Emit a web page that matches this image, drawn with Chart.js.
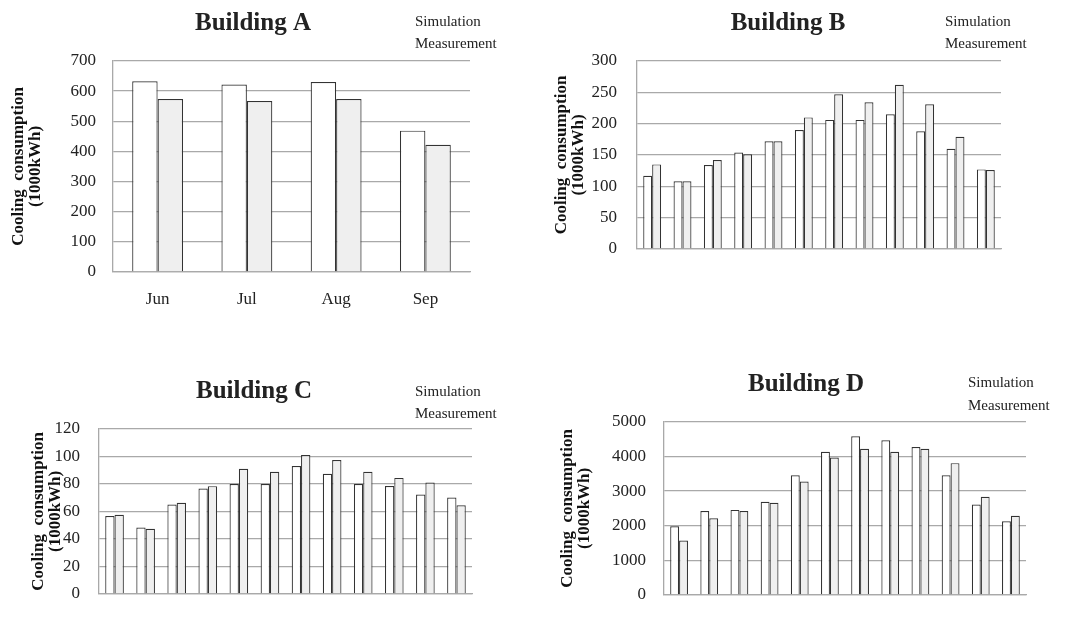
<!DOCTYPE html>
<html>
<head>
<meta charset="utf-8">
<script src="https://cdn.jsdelivr.net/npm/chart.js@4.4.1/dist/chart.umd.min.js"></script>
<style>
  html, body { margin: 0; padding: 0; background: #fff; }
  body { width: 1069px; height: 623px; position: relative; overflow: hidden; }
  canvas { position: absolute; }
</style>
</head>
<body>
<canvas id="cA"></canvas>
<canvas id="cB"></canvas>
<canvas id="cC"></canvas>
<canvas id="cD"></canvas>
<script>
// ---------- DATA ----------
const monthsA = ['Jun', 'Jul', 'Aug', 'Sep'];
const simA = [633, 622, 630, 469];
const measA = [574, 567, 574, 422];

const monthsYear = ['Jan', 'Feb', 'Mar', 'Apr', 'May', 'Jun', 'Jul', 'Aug', 'Sep', 'Oct', 'Nov', 'Dec'];

const simB = [117, 108, 134, 154, 172, 190, 206, 206, 215, 188, 160, 127];
const measB = [135, 108, 142, 151, 172, 210, 247, 234, 262, 231, 179, 126];

const simC = [56.7, 48.2, 65.0, 76.7, 80.0, 80.0, 93.1, 87.4, 80.0, 78.5, 72.3, 70.1];
const measC = [57.5, 47.3, 66.3, 78.4, 91.0, 88.9, 101.0, 97.4, 88.9, 84.4, 81.0, 64.4];

const simD = [1983, 2422, 2457, 2690, 3457, 4138, 4586, 4474, 4276, 3457, 2612, 2129];
const measD = [1569, 2216, 2422, 2664, 3276, 3974, 4224, 4138, 4224, 3810, 2836, 2284];

const seriesNames = ['Simulation', 'Measurement'];
const titles = ['Building A', 'Building B', 'Building C', 'Building D'];
const yTitle = ['Cooling  consumption', '(1000kWh)'];

// ---------- STYLE / LAYOUT ----------
const SERIF = '"Liberation Serif", "DejaVu Serif", serif';
const GRID = '#a9a9a9';
const TXT = '#222';

const overlayPlugin = {
  id: 'overlay',
  afterDraw(chart, args, opts) {
    const ctx = chart.ctx;
    ctx.save();
    ctx.fillStyle = TXT;
    ctx.font = 'bold 25px ' + SERIF;
    ctx.textAlign = 'center';
    ctx.textBaseline = 'alphabetic';
    ctx.fillText(opts.title, opts.titleX, opts.titleY);
    ctx.font = '15px ' + SERIF;
    ctx.textAlign = 'left';
    ctx.textBaseline = 'middle';
    ctx.fillText(opts.legend[0], opts.legX, opts.legY1);
    ctx.fillText(opts.legend[1], opts.legX, opts.legY2);
    ctx.restore();
  }
};

function makeChart(id, g, labels, sim, meas, yMax, yStep, title, showX) {
  const cv = document.getElementById(id);
  cv.style.left = g.cl + 'px';
  cv.style.top = g.ct + 'px';
  cv.style.width = g.cw + 'px';
  cv.style.height = g.ch + 'px';
  cv.width = g.cw; cv.height = g.ch;
  return new Chart(cv, {
    type: 'bar',
    data: {
      labels: labels,
      datasets: [
        { label: seriesNames[0], data: sim, backgroundColor: '#ffffff', borderColor: '#333', borderWidth: 1.2 },
        { label: seriesNames[1], data: meas, backgroundColor: '#efefef', borderColor: '#333', borderWidth: 1.2 }
      ]
    },
    options: {
      responsive: false,
      animation: false,
      devicePixelRatio: 1,
      layout: { padding: { left: 0, bottom: 0, top: g.pt - g.ct, right: g.cl + g.cw - g.pr } },
      datasets: { bar: { barPercentage: 1.0, categoryPercentage: g.cat } },
      plugins: {
        legend: { display: false },
        tooltip: { enabled: false },
        title: { display: false },
        overlay: {
          title: title, titleX: g.tx - g.cl, titleY: g.ty - g.ct,
          legend: seriesNames, legX: g.lx - g.cl, legY1: g.ly1 - g.ct, legY2: g.ly2 - g.ct
        }
      },
      scales: {
        x: {
          grid: { display: false },
          border: { display: true, color: GRID, width: 1.3 },
          ticks: { display: showX, color: TXT, font: { family: SERIF, size: 17 }, padding: 9, maxRotation: 0 },
          afterFit(s) { s.height = g.ct + g.ch - g.pb; }
        },
        y: {
          min: 0, max: yMax,
          grid: { color: GRID, lineWidth: 1.3, drawTicks: false },
          border: { display: true, color: GRID, width: 1.3 },
          ticks: { stepSize: yStep, color: TXT, font: { family: SERIF, size: 17 }, padding: g.tp,
                   callback: (v) => String(v) },
          title: {
            display: true, text: yTitle, color: '#111',
            font: { family: SERIF, size: 17, weight: 'bold', lineHeight: 1.02 },
            padding: { top: g.titlePad, bottom: 0 }
          },
          afterFit(s) { s.width = g.pl - g.cl; }
        }
      }
    },
    plugins: [overlayPlugin]
  });
}

makeChart('cA', { cl: 0, ct: 0, cw: 534, ch: 311, pl: 113, pr: 470, pt: 61, pb: 272, tp: 17, titlePad: 10, cat: 0.57,
  tx: 253, ty: 30, lx: 415, ly1: 22, ly2: 44 }, monthsA, simA, measA, 700, 100, titles[0], true);

makeChart('cB', { cl: 535, ct: 0, cw: 534, ch: 311, pl: 637, pr: 1001, pt: 61, pb: 249, tp: 20, titlePad: 18, cat: 0.59,
  tx: 788, ty: 30, lx: 945, ly1: 22, ly2: 44 }, monthsYear, simB, measB, 300, 50, titles[1], false);

makeChart('cC', { cl: 0, ct: 311, cw: 534, ch: 312, pl: 99, pr: 472, pt: 429, pb: 617, tp: 19, titlePad: 30, cat: 0.60,
  tx: 254, ty: 398, lx: 415, ly1: 392, ly2: 414 }, monthsYear, simC, measC, 120, 20, titles[2], false);

makeChart('cD', { cl: 535, ct: 311, cw: 534, ch: 312, pl: 664, pr: 1026, pt: 422, pb: 616, tp: 18, titlePad: 24, cat: 0.59,
  tx: 806, ty: 391, lx: 968, ly1: 383, ly2: 406 }, monthsYear, simD, measD, 5000, 1000, titles[3], false);
</script>
</body>
</html>
